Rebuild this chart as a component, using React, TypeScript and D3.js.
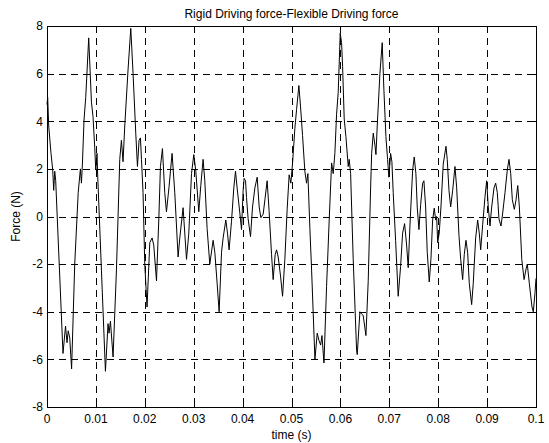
import React from "react";
import * as d3 from "d3";

const title = "Rigid Driving force-Flexible Driving force";
const xLabel = "time (s)";
const yLabel = "Force (N)";

const xTicks = [0, 0.01, 0.02, 0.03, 0.04, 0.05, 0.06, 0.07, 0.08, 0.09, 0.1];
const xTickLabels = ["0", "0.01", "0.02", "0.03", "0.04", "0.05", "0.06", "0.07", "0.08", "0.09", "0.1"];
const yTicks = [-8, -6, -4, -2, 0, 2, 4, 6, 8];
const yTickLabels = ["-8", "-6", "-4", "-2", "0", "2", "4", "6", "8"];

// time in milliseconds (converted to seconds below)
const timeMs = [
  0, 0.14, 0.35, 0.82, 1.17, 1.37, 1.58, 1.78, 3.27, 3.79, 4.09, 4.34, 4.65, 5.03,
  5.67, 6.38, 6.83, 7.04, 7.24, 7.57, 7.92, 8.53, 9.09, 9.41, 9.76, 9.97, 10.23, 10.37,
  11.13, 11.95, 12.48, 12.69, 12.97, 13.51, 14.2, 14.88, 15.22, 15.55, 15.9, 16.57, 17.13,
  17.6, 18.15, 18.5, 18.83, 19.11, 19.32, 19.64, 19.99, 20.46, 21.02, 21.49, 21.83, 22.39,
  22.86, 23.2, 23.61, 24.08, 24.43, 24.96, 25.58, 26.13, 26.81, 27.16, 27.83, 28.53, 29.0,
  29.55, 30.02, 30.43, 31.04, 31.45, 31.92, 32.27, 32.74, 33.29, 33.97, 34.32, 34.79, 35.2,
  35.69, 36.02, 36.57, 36.91, 37.24, 37.73, 38.2, 38.55, 38.88, 39.43, 39.78, 40.11, 40.31,
  40.6, 40.8, 41.13, 41.62, 42.03, 42.51, 42.98, 43.39, 43.74, 44.21, 44.56, 45.02, 45.43,
  45.92, 46.25, 46.66, 46.95, 47.28, 47.76, 48.17, 48.64, 49.11, 49.52, 49.87, 50.22, 50.69,
  51.04, 51.51, 51.85, 52.26, 52.73, 53.08, 53.35, 53.76, 54.11, 54.79, 55.26, 55.61, 55.96,
  56.23, 56.64, 57.17, 57.71, 58.2, 58.53, 58.87, 59.22, 59.55, 59.75, 59.96, 60.24, 60.45,
  60.78, 61.13, 61.6, 61.8, 62.09, 62.62, 63.31, 63.44, 63.99, 64.34, 64.66, 65.22, 65.69,
  66.18, 66.39, 66.72, 67.06, 67.27, 67.53, 68.08, 68.55, 68.9, 69.31, 69.65, 69.92, 70.27,
  70.53, 70.8, 71.29, 71.82, 72.31, 72.72, 73.13, 73.54, 73.87, 74.22, 74.77, 75.1, 75.44,
  75.71, 76.06, 76.41, 76.82, 77.08, 77.43, 77.76, 78.17, 78.51, 78.86, 79.19, 79.48, 79.68,
  79.89, 80.21, 80.56, 81.03, 81.59, 81.85, 82.2, 82.55, 82.96, 83.43, 83.78, 84.25, 84.6,
  85.0, 85.33, 85.68, 86.02, 86.35, 86.84, 87.17, 87.66, 88.07, 88.4, 88.69, 89.09, 89.56,
  89.91, 90.24, 90.59, 90.94, 91.41, 91.75, 92.09, 92.43, 92.84, 93.19, 93.66, 94.13, 94.48,
  94.83, 95.16, 95.57, 95.92, 96.27, 96.6, 97.09, 97.56, 97.97, 98.22, 98.63, 99.18, 99.45,
  99.8, 100.0,
];

const force = [
  4.7, 5.0, 3.8, 2.65, 1.95, 1.1, 1.9, 1.5, -5.75, -4.6, -5.3, -4.8, -5.1, -6.4,
  -2.0, 1.0, 2.0, 1.4, 2.2, 4.05, 5.0, 7.5, 4.8, 4.2, 2.9, 1.95, 2.65, 1.7,
  -2.25, -6.5, -4.5, -4.9, -4.4, -5.9, -2.25, 2.4, 3.2, 2.3, 3.8, 6.15, 7.9,
  6.0, 3.5, 2.1, 3.2, 3.3, 2.4, 1.0, -2.0, -3.8, -1.1, -0.9, -1.2, -2.7,
  -0.15, 2.1, 2.85, 1.0, 0.2, 1.25, 2.65, 1.0, -1.7, -0.9, 0.37, -1.8, -0.7,
  1.8, 2.6, 1.9, 0.2, 1.3, 2.4, 1.5, -0.5, -2.0, -1.0, -1.5, -2.8, -4.0,
  -1.5, -0.9, -0.15, -0.7, -1.4, -0.2, 1.2, 1.9, 1.2, 0.15, -0.55, 1.1, 1.6,
  1.5, 0.8, -0.1, -0.85, 0.4, 1.2, 1.65, 0.4, -0.05, 0.1, 0.7, 1.5, 0.2,
  -1.6, -2.65, -1.6, -1.4, -1.7, -2.5, -3.35, -1.8, 0.3, 1.75, 1.4, 2.25, 3.7,
  4.5, 5.5, 4.6, 3.4, 1.9, 1.4, 1.8, -0.5, -2.25, -6.0, -4.9, -5.2, -5.4,
  -5.0, -6.15, -2.95, -0.15, 2.25, 1.8, 2.65, 4.3, 5.2, 6.4, 7.7, 7.3, 6.3,
  4.1, 3.35, 2.1, 2.4, 1.8, -1.8, -5.6, -5.8, -4.0, -4.1, -4.15, -5.0, -2.7,
  1.2, 2.65, 3.5, 3.0, 2.6, 3.8, 6.0, 7.3, 5.3, 3.35, 2.4, 1.65, 2.65,
  2.3, 1.0, -1.0, -3.35, -2.1, -0.7, -0.3, -1.2, -2.15, -0.4, 1.95, 2.5, 1.8,
  0.4, -0.55, 0.5, 1.4, 1.5, 0.4, -1.5, -2.75, -1.8, -0.15, 0.35, -0.15, 0.0,
  -1.1, -0.7, 0.4, 2.2, 2.95, 2.4, 1.1, 0.4, 1.1, 2.1, 1.2, -0.8, -1.8,
  -2.65, -1.6, -1.0, -1.5, -2.8, -3.7, -2.8, -0.9, -0.15, -0.7, -1.4, -0.35, 0.8,
  1.5, 0.4, -0.4, 0.4, 1.2, 1.4, 1.0, -0.1, -0.4, 0.15, 1.0, 1.95, 2.4,
  1.8, 0.7, 0.3, 0.7, 1.3, 0.4, -1.8, -2.65, -2.2, -2.0, -2.8, -3.8, -4.0,
  -3.2, -2.6,
];

const W = 549;
const H = 443;
const M = { left: 47, top: 26, right: 536, bottom: 407 };
const FONT = "Arial, 'Liberation Sans', Helvetica, sans-serif";

export default function App() {
  const x = d3.scaleLinear().domain([0, 0.1]).range([M.left, M.right]);
  const y = d3.scaleLinear().domain([-8, 8]).range([M.bottom, M.top]);
  const data = timeMs.map((t, i) => [t / 1000, force[i]] as [number, number]);
  const line = d3
    .line<[number, number]>()
    .x((d) => x(d[0]))
    .y((d) => y(d[1]));
  const tickLen = 5;

  return (
    <svg
      width={W}
      height={H}
      style={{ position: "absolute", left: 0, top: 0, background: "#fff" }}
      fontFamily={FONT}
    >
      <rect x={0} y={0} width={W} height={H} fill="#fff" />
      {/* grid */}
      <g stroke="#000" strokeWidth={1} strokeDasharray="7,5" shapeRendering="crispEdges">
        {xTicks.slice(1, -1).map((t) => (
          <line key={"gx" + t} x1={Math.round(x(t)) + 0.5} x2={Math.round(x(t)) + 0.5} y1={M.top} y2={M.bottom} />
        ))}
        {yTicks.slice(1, -1).map((t) => (
          <line key={"gy" + t} x1={M.left} x2={M.right} y1={Math.round(y(t)) + 0.5} y2={Math.round(y(t)) + 0.5} />
        ))}
      </g>
      {/* ticks */}
      <g stroke="#000" strokeWidth={1} shapeRendering="crispEdges">
        {xTicks.map((t) => (
          <g key={"tx" + t}>
            <line x1={Math.round(x(t)) + 0.5} x2={Math.round(x(t)) + 0.5} y1={M.bottom} y2={M.bottom - tickLen} />
            <line x1={Math.round(x(t)) + 0.5} x2={Math.round(x(t)) + 0.5} y1={M.top} y2={M.top + tickLen} />
          </g>
        ))}
        {yTicks.map((t) => (
          <g key={"ty" + t}>
            <line x1={M.left} x2={M.left + tickLen} y1={Math.round(y(t)) + 0.5} y2={Math.round(y(t)) + 0.5} />
            <line x1={M.right} x2={M.right - tickLen} y1={Math.round(y(t)) + 0.5} y2={Math.round(y(t)) + 0.5} />
          </g>
        ))}
      </g>
      {/* data line */}
      <path d={line(data) || ""} fill="none" stroke="#000" strokeWidth={1} strokeLinejoin="round" />
      {/* frame */}
      <rect
        x={M.left + 0.5}
        y={M.top + 0.5}
        width={M.right - M.left}
        height={M.bottom - M.top}
        fill="none"
        stroke="#000"
        strokeWidth={1}
        shapeRendering="crispEdges"
      />
      {/* tick labels */}
      <g fontSize={12} fill="#000">
        {xTicks.map((t, i) => (
          <text key={"lx" + t} x={x(t)} y={422.5} textAnchor="middle">
            {xTickLabels[i]}
          </text>
        ))}
        {yTicks.map((t, i) => (
          <text key={"ly" + t} x={43} y={y(t) + 4.3} textAnchor="end">
            {yTickLabels[i]}
          </text>
        ))}
      </g>
      <text x={(M.left + M.right) / 2} y={17.5} textAnchor="middle" fontSize={12} fill="#000">
        {title}
      </text>
      <text x={(M.left + M.right) / 2} y={439} textAnchor="middle" fontSize={12} fill="#000">
        {xLabel}
      </text>
      <text
        transform={`translate(19.5, ${(M.top + M.bottom) / 2}) rotate(-90)`}
        textAnchor="middle"
        fontSize={12}
        fill="#000"
      >
        {yLabel}
      </text>
    </svg>
  );
}
